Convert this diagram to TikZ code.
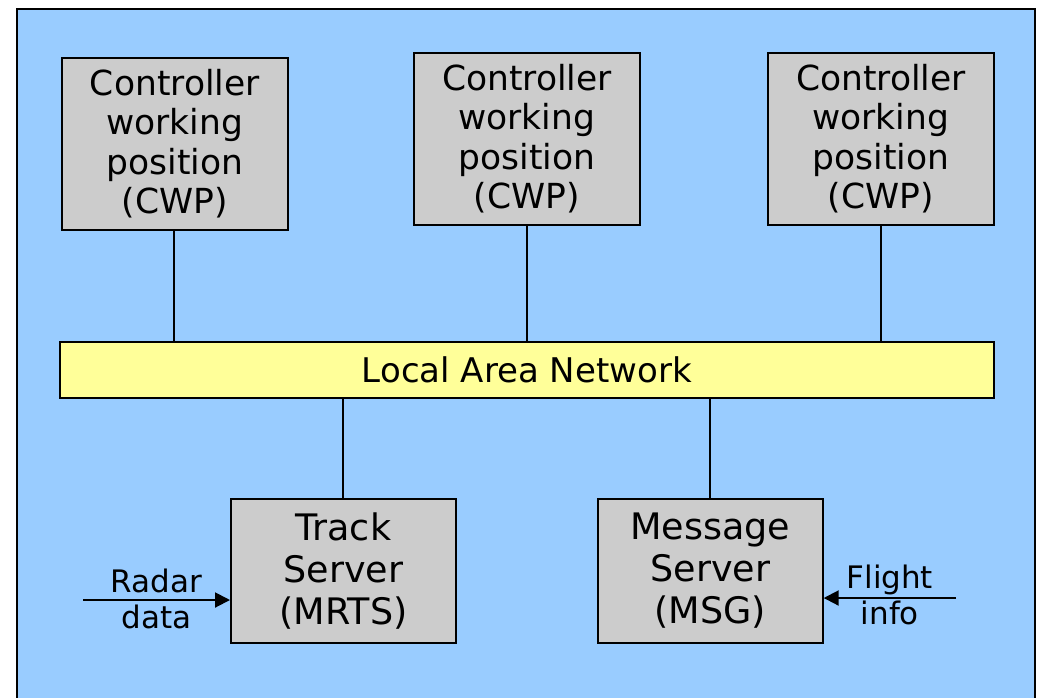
\documentclass[tikz,border=0pt]{standalone}
\usepackage{fontspec}
\setmainfont{DejaVu Sans}
\usetikzlibrary{arrows.meta}
\definecolor{bgblue}{HTML}{99CCFF}
\definecolor{boxgray}{HTML}{CCCCCC}
\definecolor{lanyellow}{HTML}{FFFF99}
\tikzset{
  unitbox/.style={draw=black, line width=1.7pt, fill=boxgray, align=center,
    inner sep=0pt, anchor=north west},
  cwpbox/.style={unitbox, minimum width=226pt, minimum height=172pt,
    font=\fontsize{34.5}{39.5}\selectfont},
  srvbox/.style={unitbox, minimum width=225pt, minimum height=144pt,
    font=\fontsize{36.5}{42}\selectfont},
  link/.style={line width=2.4pt},
  feed/.style={line width=2pt, -{Triangle[length=15pt, width=15pt]}},
  feedlabel/.style={align=center, inner sep=0pt, font=\fontsize{31}{36}\selectfont}
}
\begin{document}
\begin{tikzpicture}[x=1pt, y=-1pt]
  \useasboundingbox (0,0) rectangle (1040,697);
  % system frame
  \draw[line width=1.7pt, fill=bgblue] (17,9) rectangle (1035,720);

  % controller working positions
  \node[cwpbox] (cwp1) at (61,57) {Controller\\working\\position\\(CWP)};
  \node[cwpbox] (cwp2) at (413,52) {Controller\\working\\position\\(CWP)};
  \node[cwpbox] (cwp3) at (767,52) {Controller\\working\\position\\(CWP)};

  % local area network bus
  \node[draw=black, line width=1.7pt, fill=lanyellow, anchor=north west,
        minimum width=934pt, minimum height=56pt, inner sep=0pt,
        font=\fontsize{34}{40}\selectfont] (lan) at (59,341) {Local Area Network};

  % servers
  \node[srvbox] (track) at (230,498) {Track\\Server\\(MRTS)};
  \node[srvbox] (msg) at (597,498) {Message\\Server\\(MSG)};

  % bus taps
  \draw[link] ([xshift=-1pt]cwp1.south) -- ([xshift=-1pt]cwp1.south |- lan.north);
  \draw[link] (cwp2.south) -- (cwp2.south |- lan.north);
  \draw[link] (cwp3.south) -- (cwp3.south |- lan.north);
  \draw[link] (343,397) coordinate (tt) -- (tt |- track.north);
  \draw[link] (710,397) coordinate (mt) -- (mt |- msg.north);

  % external feeds
  \coordinate (radar) at (83,600);
  \coordinate (flight) at (956,598);
  \draw[feed] (radar) -- (radar -| track.west)
    node[midway, feedlabel, yshift=1pt] {Radar\\data};
  \draw[feed] (flight) -- (flight -| msg.east)
    node[midway, feedlabel, yshift=3pt] {Flight\\info};
\end{tikzpicture}
\end{document}
